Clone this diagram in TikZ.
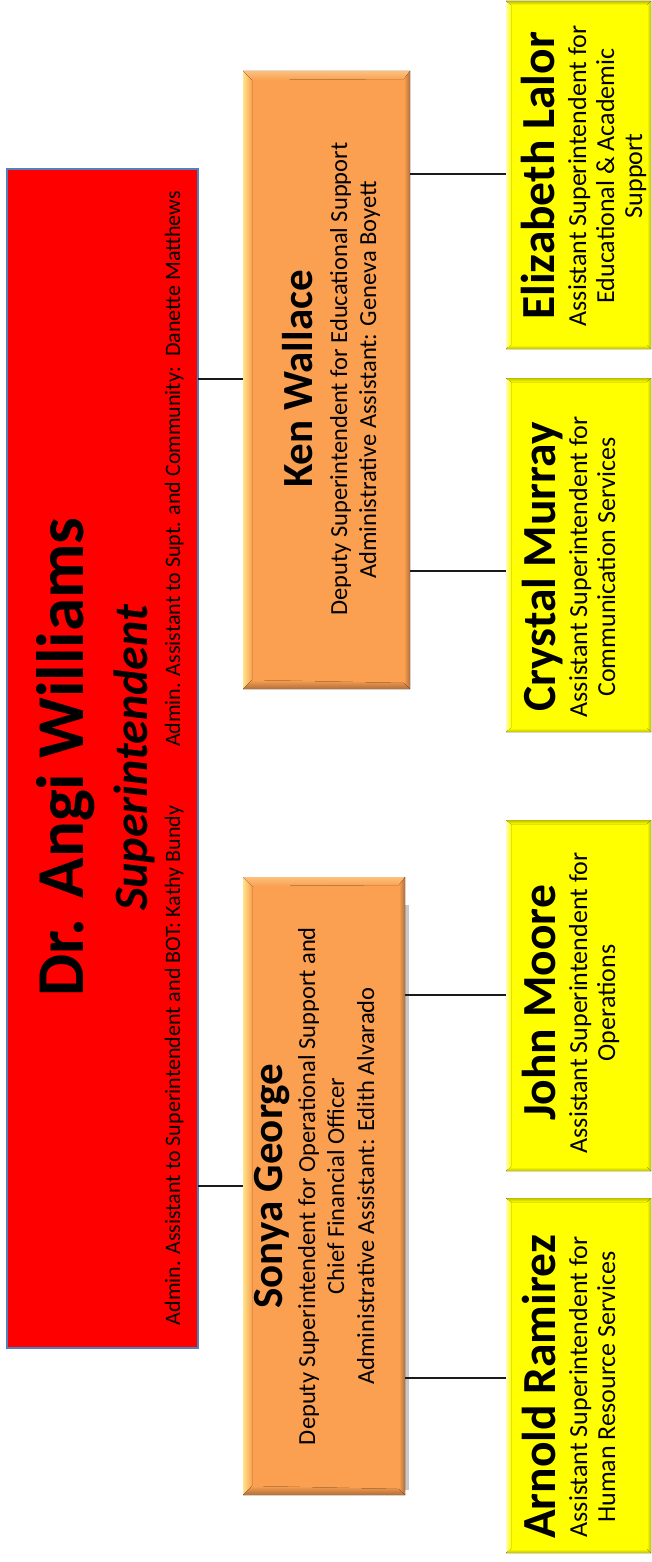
\documentclass[tikz,border=0pt]{standalone}
\usepackage{fontspec}
\setmainfont{Carlito}
\usetikzlibrary{calc}
\definecolor{redfill}{HTML}{FF0000}
\definecolor{redline}{HTML}{4F81BD}
\definecolor{orfill}{HTML}{FAA050}
\definecolor{orlight}{HTML}{FFE48C}
\definecolor{ortop}{HTML}{FDC07C}
\definecolor{ordark}{HTML}{B06E3A}
\definecolor{yfill}{HTML}{FFFF00}
\definecolor{ylight}{HTML}{FFFFB4}
\definecolor{ydark}{HTML}{BDBD00}
\definecolor{shadowgrey}{HTML}{C8C8C8}
\definecolor{conn}{HTML}{1A1A1A}
\tikzset{
  boxbase/.style={rectangle, inner sep=0pt, outer sep=0pt},
  redbox/.style={boxbase, fill=redfill, draw=redline, line width=1.2pt},
  orbox/.style={boxbase, fill=orfill},
  ylbox/.style={boxbase, fill=yfill},
  rtext/.style={rotate=90, anchor=base, inner sep=0pt, text=black},
  supname/.style={rtext, font=\fontsize{67}{70}\selectfont\bfseries},
  suptitle/.style={rtext, font=\fontsize{48}{50}\selectfont\bfseries\itshape},
  supline/.style={rtext, font=\fontsize{22}{24}\selectfont},
  orname/.style={rtext, font=\fontsize{43}{46}\selectfont\bfseries},
  orline/.style={rtext, font=\fontsize{24.5}{27}\selectfont},
  ylname/.style={rtext, font=\fontsize{47.5}{50}\selectfont\bfseries},
  ylline/.style={rtext, font=\fontsize{26}{28}\selectfont},
  link/.style={draw=conn, line width=1.3pt},
}
\newcommand\bevelor[1]{%
  \fill[left color=orlight, right color=orfill] (#1.north west) -- ($(#1.north west)+(9,9)$) -- ($(#1.south west)+(9,-9)$) -- (#1.south west) -- cycle;
  \fill[top color=ortop, bottom color=orfill] (#1.north west) -- (#1.north east) -- ($(#1.north east)+(-6,8)$) -- ($(#1.north west)+(9,9)$) -- cycle;
  \fill[left color=orfill, right color=ordark] (#1.north east) -- (#1.south east) -- ($(#1.south east)+(-6,-6)$) -- ($(#1.north east)+(-6,8)$) -- cycle;
  \fill[top color=orfill, bottom color=ordark] (#1.south west) -- (#1.south east) -- ($(#1.south east)+(-6,-6)$) -- ($(#1.south west)+(9,-9)$) -- cycle;
}
\newcommand\bevelyl[1]{%
  \fill[left color=ylight, right color=yfill] (#1.north west) -- ($(#1.north west)+(5,4)$) -- ($(#1.south west)+(5,-4)$) -- (#1.south west) -- cycle;
  \fill[top color=ydark, bottom color=yfill] (#1.north west) -- (#1.north east) -- ($(#1.north east)+(-4,4)$) -- ($(#1.north west)+(5,4)$) -- cycle;
  \fill[left color=yfill, right color=ydark] (#1.north east) -- (#1.south east) -- ($(#1.south east)+(-4,-4)$) -- ($(#1.north east)+(-4,4)$) -- cycle;
  \fill[top color=yfill, bottom color=ydark] (#1.south west) -- (#1.south east) -- ($(#1.south east)+(-4,-4)$) -- ($(#1.south west)+(5,-4)$) -- cycle;
}
\begin{document}
\begin{tikzpicture}[x=1pt,y=-1pt]
\fill[white] (0,0) rectangle (652,1562);
\useasboundingbox (0,0) rectangle (652,1562);

% superintendent
\node[redbox, minimum width=191pt, minimum height=1179pt] (sup) at (102.5,758.5) {};
\node[supname] (supn) at (83,757) {Dr. Angi Williams};
\node[suptitle] (supt) at (147,758) {Superintendent};
\node[supline] (supa) at (180,758) {Admin. Assistant to Superintendent and BOT: Kathy Bundy\hspace{59pt}Admin. Assistant to Supt. and Community:\ \ Danette Matthews};

% deputies
\node[orbox, minimum width=167pt, minimum height=618pt] (ken) at (326.5,380) {};
\bevelor{ken}
\fill[shadowgrey] (405,905) rectangle (408.5,1490);
\node[orbox, minimum width=162pt, minimum height=618pt] (sonya) at (324,1186) {};
\bevelor{sonya}

\node[orname] (kenn) at (312,379) {Ken Wallace};
\node[orline] (ken1) at (347,379) {Deputy Superintendent for Educational Support};
\node[orline] (ken2) at (376,380) {Administrative Assistant: Geneva Boyett};

\node[orname] (sonn) at (282,1186) {Sonya George};
\node[orline] (son1) at (315,1186) {Deputy Superintendent for Operational Support and};
\node[orline] (son2) at (344,1186) {Chief Financial Officer};
\node[orline] (son3) at (374,1186) {Administrative Assistant: Edith Alvarado};

% assistants
\node[ylbox, minimum width=145pt, minimum height=348pt] (eliz) at (578.5,175) {};
\bevelyl{eliz}
\node[ylbox, minimum width=145pt, minimum height=354pt] (crys) at (578.5,555) {};
\bevelyl{crys}
\node[ylbox, minimum width=145pt, minimum height=351pt] (john) at (578.5,995.5) {};
\bevelyl{john}
\node[ylbox, minimum width=145pt, minimum height=355pt] (arno) at (578.5,1375.5) {};
\bevelyl{arno}

\node[ylname] (elizn) at (554,176) {Elizabeth Lalor};
\node[ylline] (eliz1) at (586,176) {Assistant Superintendent for};
\node[ylline] (eliz2) at (614,176) {Educational \& Academic};
\node[ylline] (eliz3) at (642,176) {Support};

\node[ylname] (crysn) at (555,567) {Crystal Murray};
\node[ylline] (crys1) at (587,567) {Assistant Superintendent for};
\node[ylline] (crys2) at (615,567) {Communication Services};

\node[ylname] (johnn) at (555,1003) {John Moore};
\node[ylline] (john1) at (587,1003) {Assistant Superintendent for};
\node[ylline] (john2) at (615,1003) {Operations};

\node[ylname] (arnon) at (555,1387) {Arnold Ramirez};
\node[ylline] (arno1) at (587,1387) {Assistant Superintendent for};
\node[ylline] (arno2) at (615,1387) {Human Resource Services};

% connectors
\coordinate (c1) at (0,379);
\coordinate (c2) at (0,1186);
\coordinate (c3) at (0,174);
\coordinate (c4) at (0,571);
\coordinate (c5) at (0,995);
\coordinate (c6) at (0,1378);
\draw[link] (sup.east |- c1) -- (ken.west |- c1);
\draw[link] (sup.east |- c2) -- (sonya.west |- c2);
\draw[link] (ken.east |- c3) -- (eliz.west |- c3);
\draw[link] (ken.east |- c4) -- (crys.west |- c4);
\draw[link] (sonya.east |- c5) -- (john.west |- c5);
\draw[link] (sonya.east |- c6) -- (arno.west |- c6);
\end{tikzpicture}
\end{document}
